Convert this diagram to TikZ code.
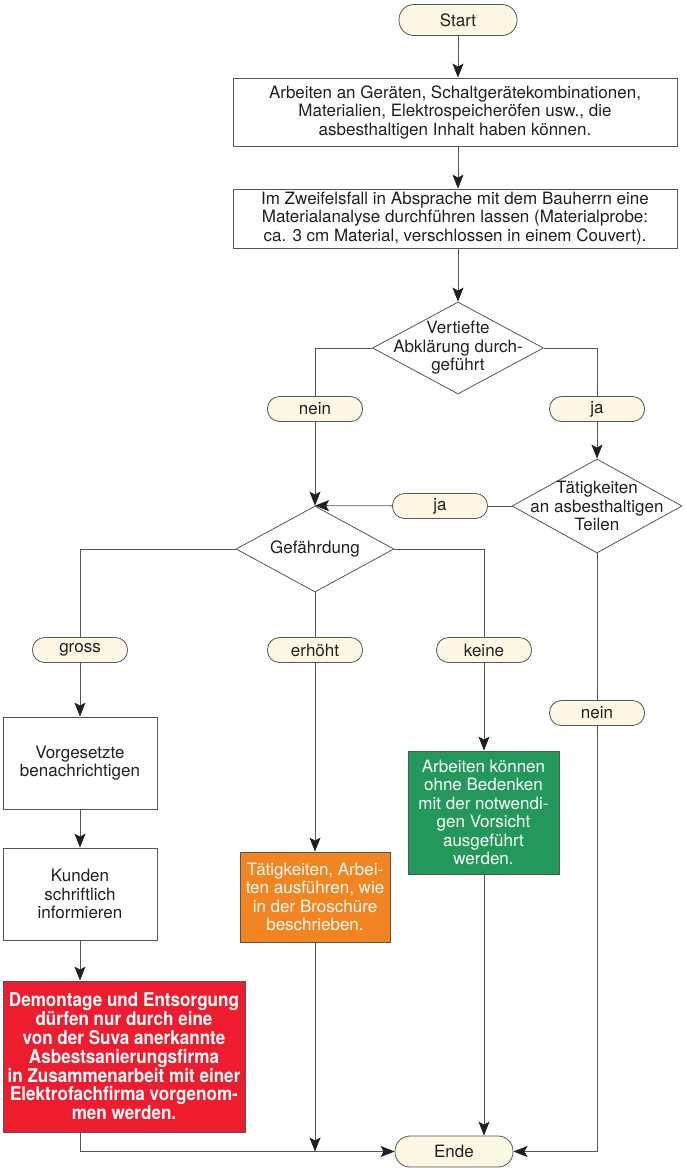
\documentclass[tikz,border=0pt]{standalone}
\usepackage{fontspec}
\setmainfont{TeX Gyre Heros}
\newfontfamily\schmal[FakeStretch=0.9]{TeX Gyre Heros}
\usetikzlibrary{shapes.geometric,arrows.meta}
\definecolor{creme}{HTML}{FCF8E3}
\definecolor{rot}{HTML}{ED1C2E}
\definecolor{orng}{HTML}{F28522}
\definecolor{gruen}{HTML}{22995B}
\definecolor{linie}{HTML}{555555}
\definecolor{schrift}{HTML}{231F20}

\begin{document}
\begin{tikzpicture}[x=1pt,y=-1pt,line width=0.8pt,
        every node/.style={inner sep=2pt,text=schrift,align=center,
          font=\fontsize{17}{18.5}\selectfont},
        term/.style={draw=linie,fill=creme,rounded corners=15pt,
          minimum width=118pt,minimum height=31pt},
        lab/.style={draw=linie,fill=creme,rounded corners=12pt,
          minimum width=95pt,minimum height=25pt},
        kasten/.style={draw=linie,fill=white},
        farbig/.style={draw=linie,text=white},
        raute/.style={draw=linie,diamond,inner sep=0pt},
        >={Stealth[length=14pt,width=11pt,inset=3pt,color=schrift]}]
       \useasboundingbox(0,0)rectangle(687,1168);
       % oben
       \node[term](start)at(458,20){Start};
       \node[kasten,minimum width=444pt,minimum height=68pt](arb)at(455,112)
         {Arbeiten an Geräten, Schaltgerätekombinationen,\\
          Materialien, Elektrospeicheröfen usw., die\\
          asbesthaltigen Inhalt haben können.};
       \node[kasten,minimum width=444pt,minimum height=59pt](zweifel)at(455,218.5)
         {Im Zweifelsfall in Absprache mit dem Bauherrn eine\\
          Materialanalyse durchführen lassen (Materialprobe:\\
          ca. 3 cm Material, verschlossen in einem Couvert).};
       % Entscheidungen
       \node[raute,minimum width=171pt,minimum height=92pt](vert)at(458,348){};
       \node at(vert){Vertiefte\\Abklärung durch-\\geführt};
       \node[raute,minimum width=170pt,minimum height=94pt](taet)at(597,506){};
       \node at(taet){Tätigkeiten\\an asbesthaltigen\\Teilen};
       \node[raute,minimum width=158pt,minimum height=86pt](gef)at(315,549){};
       \node at(gef){Gefährdung};
       \node[lab](nein1)at(315,409){nein};
       \node[lab](ja1)at(597,409){ja};
       \node[lab](ja2)at(440,506){ja};
       \node[lab](gross)at(80,650){gross};
       \node[lab](erh)at(315,650){erhöht};
       \node[lab](keine)at(484,650){keine};
       \node[lab](nein2)at(597,713){nein};
       % Massnahmen
       \node[kasten,minimum width=154pt,minimum height=92pt](vorg)at(80,763)
         {Vorgesetzte\\benachrichtigen};
       \node[kasten,minimum width=154pt,minimum height=92pt](kund)at(80,894)
         {Kunden\\schriftlich\\informieren};
       \node[farbig,fill=rot,minimum width=242pt,minimum height=151pt,
          font=\schmal\bfseries\fontsize{19}{18.8}\selectfont](rotbox)at(124,1056.5)
         {Demontage und Entsorgung\\dürfen nur durch eine\\von der Suva anerkannte\\
          Asbestsanierungsfirma\\in Zusammenarbeit mit einer\\
          Elektrofachfirma vorgenom-\\men werden.};
       \node[farbig,fill=orng,minimum width=150pt,minimum height=90pt](orbox)at(315,897)
         {Tätigkeiten, Arbei-\\ten ausführen, wie\\in der Broschüre\\beschrieben.};
       \node[farbig,fill=gruen,minimum width=151pt,minimum height=123pt](grbox)at(483.5,812.5)
         {Arbeiten können\\ohne Bedenken\\mit der notwendi-\\gen Vorsicht\\ausgeführt\\werden.};
       \node[term](ende)at(454,1151.5){Ende};
       % Verbindungen
       \begin{scope}[draw=linie]
         \draw[->](start)--(start|-arb.north);
         \draw[->](arb.south-|start)--(zweifel.north-|start);
         \draw[->](zweifel.south-|start)--(vert);
         \draw(vert.west)-|(nein1);
         \draw[->](nein1)--(gef.north);
         \draw(vert.east)-|(ja1);
         \draw[->](ja1)--(taet.north);
         \draw(taet.west)--(ja2);
         \draw[->](ja2)--(gef.north);
         \draw(taet.south)--(nein2);
         \draw[->](nein2)|-(ende.east);
         \draw(gef.west)-|(gross);
         \draw[->](gross)--(vorg);
         \draw[->](vorg)--(kund);
         \draw[->](kund)--(kund|-rotbox.north);
         \draw[->](kund|-rotbox.south)|-(ende.west);
         \draw(gef.south)--(erh);
         \draw[->](erh)--(orbox);
         \draw[->](orbox)--(orbox|-ende.west);
         \draw(gef.east)-|(keine);
         \draw[->](keine)--(grbox.north-|keine);
         \draw[->](grbox.south-|keine)--(ende.north-|keine);
       \end{scope}
    \end{tikzpicture}
\end{document}
